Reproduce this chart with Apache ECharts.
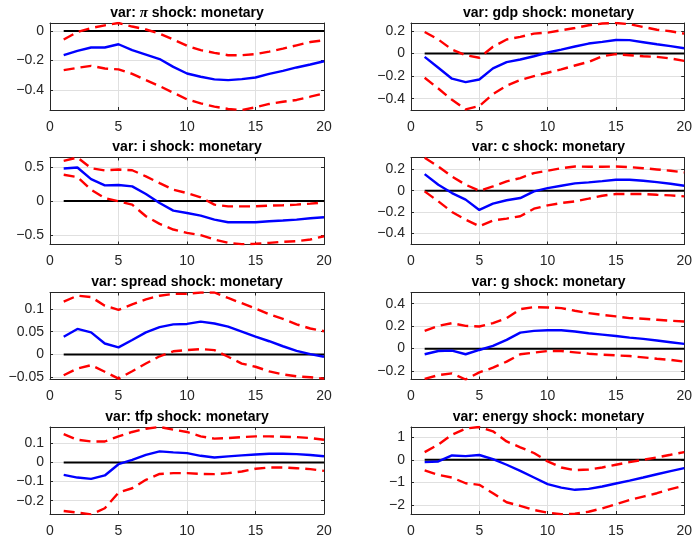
<!DOCTYPE html>
<html>
<head>
<meta charset="utf-8">
<script src="https://cdn.jsdelivr.net/npm/echarts@6/dist/echarts.min.js"></script>
<style>
  html, body { margin: 0; padding: 0; background: #ffffff; }
  #chart { width: 695px; height: 544px; }
</style>
</head>
<body>
<div id="chart"></div>
<script>
// Impulse responses to a monetary shock: point estimate with upper/lower bands
const horizons = [1, 2, 3, 4, 5, 6, 7, 8, 9, 10, 11, 12, 13, 14, 15, 16, 17, 18, 19, 20];
const baseline = [0, 0, 0, 0, 0, 0, 0, 0, 0, 0, 0, 0, 0, 0, 0, 0, 0, 0, 0, 0];

const variables = ['π', 'gdp', 'i', 'c', 'spread', 'g', 'tfp', 'energy'];

const piMid   = [-0.164, -0.135, -0.112, -0.112, -0.090, -0.130, -0.160, -0.190, -0.243, -0.288, -0.310, -0.328, -0.333, -0.326, -0.315, -0.290, -0.270, -0.247, -0.227, -0.205];
const piUpper = [-0.058, -0.007, 0.020, 0.038, 0.054, 0.030, 0.010, -0.018, -0.058, -0.100, -0.130, -0.148, -0.164, -0.164, -0.157, -0.140, -0.120, -0.097, -0.075, -0.063];
const piLower = [-0.265, -0.250, -0.236, -0.254, -0.260, -0.290, -0.333, -0.373, -0.418, -0.463, -0.490, -0.512, -0.528, -0.535, -0.517, -0.494, -0.479, -0.467, -0.445, -0.422];

const gdpMid   = [-0.030, -0.126, -0.223, -0.253, -0.230, -0.132, -0.076, -0.053, -0.024, 0.009, 0.035, 0.062, 0.088, 0.103, 0.120, 0.118, 0.100, 0.082, 0.065, 0.047];
const gdpUpper = [0.190, 0.124, 0.035, -0.015, -0.038, 0.060, 0.124, 0.147, 0.176, 0.185, 0.206, 0.226, 0.250, 0.265, 0.270, 0.260, 0.235, 0.210, 0.197, 0.176];
const gdpLower = [-0.215, -0.310, -0.410, -0.494, -0.465, -0.360, -0.285, -0.235, -0.200, -0.170, -0.141, -0.106, -0.074, -0.024, -0.006, -0.015, -0.024, -0.030, -0.044, -0.065];

const iMid   = [0.476, 0.490, 0.320, 0.228, 0.233, 0.214, 0.102, -0.030, -0.140, -0.175, -0.214, -0.272, -0.310, -0.310, -0.310, -0.296, -0.286, -0.272, -0.252, -0.238];
const iUpper = [0.587, 0.636, 0.480, 0.447, 0.460, 0.450, 0.360, 0.262, 0.165, 0.116, 0.053, -0.053, -0.078, -0.078, -0.078, -0.068, -0.063, -0.053, -0.039, -0.020];
const iLower = [0.383, 0.350, 0.165, 0.044, -0.005, -0.053, -0.223, -0.335, -0.417, -0.466, -0.500, -0.563, -0.612, -0.631, -0.626, -0.612, -0.597, -0.587, -0.563, -0.515];

const cMid   = [0.156, 0.056, -0.022, -0.084, -0.181, -0.122, -0.090, -0.069, -0.006, 0.025, 0.047, 0.069, 0.078, 0.090, 0.103, 0.103, 0.094, 0.081, 0.066, 0.047];
const cUpper = [0.310, 0.228, 0.134, 0.056, 0.000, 0.040, 0.088, 0.119, 0.166, 0.188, 0.212, 0.228, 0.225, 0.225, 0.228, 0.222, 0.212, 0.200, 0.188, 0.172];
const cLower = [-0.006, -0.100, -0.200, -0.272, -0.334, -0.280, -0.262, -0.240, -0.169, -0.138, -0.116, -0.100, -0.075, -0.047, -0.031, -0.031, -0.031, -0.038, -0.044, -0.053];

const spreadMid   = [0.039, 0.056, 0.0485, 0.024, 0.0155, 0.0316, 0.0485, 0.060, 0.066, 0.067, 0.072, 0.068, 0.061, 0.050, 0.039, 0.029, 0.018, 0.008, 0.0007, -0.005];
const spreadUpper = [0.116, 0.129, 0.126, 0.107, 0.098, 0.110, 0.121, 0.129, 0.133, 0.133, 0.136, 0.136, 0.124, 0.1125, 0.101, 0.088, 0.078, 0.066, 0.057, 0.051];
const spreadLower = [-0.0456, -0.031, -0.0235, -0.038, -0.053, -0.037, -0.020, -0.004, 0.007, 0.0096, 0.0118, 0.0096, -0.005, -0.020, -0.027, -0.037, -0.044, -0.048, -0.050, -0.053];

const gMid   = [-0.050, -0.021, -0.018, -0.050, -0.012, 0.024, 0.078, 0.143, 0.158, 0.164, 0.164, 0.152, 0.137, 0.125, 0.113, 0.098, 0.087, 0.072, 0.057, 0.042];
const gUpper = [0.158, 0.203, 0.227, 0.203, 0.197, 0.227, 0.272, 0.352, 0.370, 0.367, 0.361, 0.337, 0.316, 0.301, 0.287, 0.272, 0.266, 0.257, 0.248, 0.242];
const gLower = [-0.270, -0.236, -0.220, -0.275, -0.212, -0.170, -0.116, -0.050, -0.036, -0.021, -0.021, -0.033, -0.045, -0.054, -0.060, -0.066, -0.078, -0.090, -0.100, -0.116];

const tfpMid   = [-0.065, -0.079, -0.086, -0.068, -0.009, 0.014, 0.040, 0.058, 0.053, 0.049, 0.035, 0.026, 0.032, 0.037, 0.042, 0.046, 0.046, 0.044, 0.039, 0.033];
const tfpUpper = [0.149, 0.119, 0.110, 0.110, 0.137, 0.160, 0.177, 0.186, 0.172, 0.160, 0.137, 0.125, 0.128, 0.133, 0.137, 0.137, 0.135, 0.133, 0.128, 0.119];
const tfpLower = [-0.254, -0.263, -0.272, -0.240, -0.158, -0.135, -0.091, -0.060, -0.056, -0.056, -0.060, -0.061, -0.056, -0.047, -0.033, -0.026, -0.026, -0.030, -0.035, -0.044];

const energyMid   = [-0.104, -0.074, 0.190, 0.160, 0.210, 0.030, -0.220, -0.490, -0.785, -1.080, -1.230, -1.330, -1.290, -1.185, -1.050, -0.920, -0.785, -0.640, -0.500, -0.370];
const energyUpper = [0.340, 0.670, 1.110, 1.380, 1.450, 1.260, 0.810, 0.550, 0.300, -0.074, -0.340, -0.460, -0.430, -0.340, -0.220, -0.104, 0.000, 0.104, 0.220, 0.340];
const energyLower = [-0.474, -0.670, -0.785, -1.040, -1.110, -1.480, -1.880, -2.040, -2.220, -2.340, -2.410, -2.390, -2.300, -2.150, -1.970, -1.780, -1.630, -1.480, -1.300, -1.140];

const midSeries   = [piMid, gdpMid, iMid, cMid, spreadMid, gMid, tfpMid, energyMid];
const upperSeries = [piUpper, gdpUpper, iUpper, cUpper, spreadUpper, gUpper, tfpUpper, energyUpper];
const lowerSeries = [piLower, gdpLower, iLower, cLower, spreadLower, gLower, tfpLower, energyLower];

// y-axis limits and tick spacing for each panel
const yMins  = [-0.535, -0.5, -0.636, -0.506, -0.055, -0.275, -0.27, -2.4];
const yMaxs  = [0.054, 0.27, 0.636, 0.3125, 0.136, 0.5, 0.186, 1.45];
const ySteps = [0.2, 0.2, 0.5, 0.2, 0.05, 0.2, 0.1, 1];
const xTicks = [0, 5, 10, 15, 20];

// panel geometry (2 columns x 4 rows)
const colLeft = [50, 411];
const colWidth = [274, 275];
const rowTop = [23, 157.5, 292.5, 427];
const panelHeight = 87;

const axisColor = '#262626';
const gridColor = '#e0e0e0';
const fontFamily = '"Liberation Sans", Arial, Helvetica, sans-serif';

const boxLine = { show: true, onZero: false, lineStyle: { color: axisColor, width: 1 } };
const innerTick = { show: true, inside: true, length: 3, lineStyle: { color: axisColor, width: 1 } };
const withMinus = v => String(v).replace('-', '\u2212');

const grids = [], xAxes = [], yAxes = [], series = [], graphics = [];

variables.forEach((name, k) => {
  const col = k % 2, row = Math.floor(k / 2);
  grids.push({
    left: colLeft[col], top: rowTop[row], width: colWidth[col], height: panelHeight,
    show: false, containLabel: false
  });

  const xBase = {
    type: 'value', gridIndex: k, min: xTicks[0], max: xTicks[xTicks.length - 1],
    interval: xTicks[1] - xTicks[0]
  };
  xAxes.push(Object.assign({}, xBase, {
    position: 'bottom', axisLine: boxLine, axisTick: innerTick,
    axisLabel: { show: true, color: axisColor, fontSize: 14, fontFamily: fontFamily, margin: 10 },
    splitLine: { show: true, lineStyle: { color: gridColor, width: 1 } }
  }));
  xAxes.push(Object.assign({}, xBase, {
    position: 'top', axisLine: boxLine, axisTick: innerTick,
    axisLabel: { show: false }, splitLine: { show: false }
  }));

  const yBase = {
    type: 'value', gridIndex: k, min: yMins[k], max: yMaxs[k],
    minInterval: ySteps[k], maxInterval: ySteps[k], splitNumber: 5, scale: true
  };
  yAxes.push(Object.assign({}, yBase, {
    position: 'left', axisLine: boxLine, axisTick: innerTick,
    axisLabel: {
      show: true, color: axisColor, fontSize: 14, fontFamily: fontFamily, margin: 6,
      showMinLabel: false, showMaxLabel: false, formatter: withMinus
    },
    splitLine: { show: true, lineStyle: { color: gridColor, width: 1 } }
  }));
  yAxes.push(Object.assign({}, yBase, {
    position: 'right', axisLine: boxLine, axisTick: innerTick,
    axisLabel: { show: false }, splitLine: { show: false }
  }));

  const xi = 2 * k, yi = 2 * k;
  const pairs = arr => horizons.map((h, i) => [h, arr[i]]);

  series.push({
    type: 'line', xAxisIndex: xi, yAxisIndex: yi, data: pairs(baseline),
    symbol: 'none', silent: true, z: 2,
    lineStyle: { color: '#000000', width: 2 }
  });
  [upperSeries[k], lowerSeries[k]].forEach(band => {
    series.push({
      type: 'line', xAxisIndex: xi, yAxisIndex: yi, data: pairs(band),
      symbol: 'none', silent: true, z: 3,
      lineStyle: { color: '#ff0000', width: 2.4, type: [11, 6] }
    });
  });
  series.push({
    type: 'line', xAxisIndex: xi, yAxisIndex: yi, data: pairs(midSeries[k]),
    symbol: 'none', silent: true, z: 4,
    lineStyle: { color: '#0000ff', width: 2.4 }
  });

  const isPi = name === 'π';
  graphics.push({
    type: 'text',
    x: colLeft[col] + colWidth[col] / 2,
    y: rowTop[row] - 10,
    style: {
      text: isPi ? 'var: {p|π} shock: monetary' : 'var: ' + name + ' shock: monetary',
      fill: '#000000',
      font: 'bold 14px ' + fontFamily,
      textAlign: 'center',
      textVerticalAlign: 'middle',
      rich: {
        p: { fontFamily: '"Liberation Serif", "DejaVu Serif", serif', fontWeight: 'bold', fontStyle: 'italic', fontSize: 15, fill: '#000000' }
      }
    }
  });
});

const chart = echarts.init(document.getElementById('chart'), null, { renderer: 'canvas' });
chart.setOption({
  animation: false,
  backgroundColor: '#ffffff',
  grid: grids,
  xAxis: xAxes,
  yAxis: yAxes,
  series: series,
  graphic: graphics
});
</script>
</body>
</html>
